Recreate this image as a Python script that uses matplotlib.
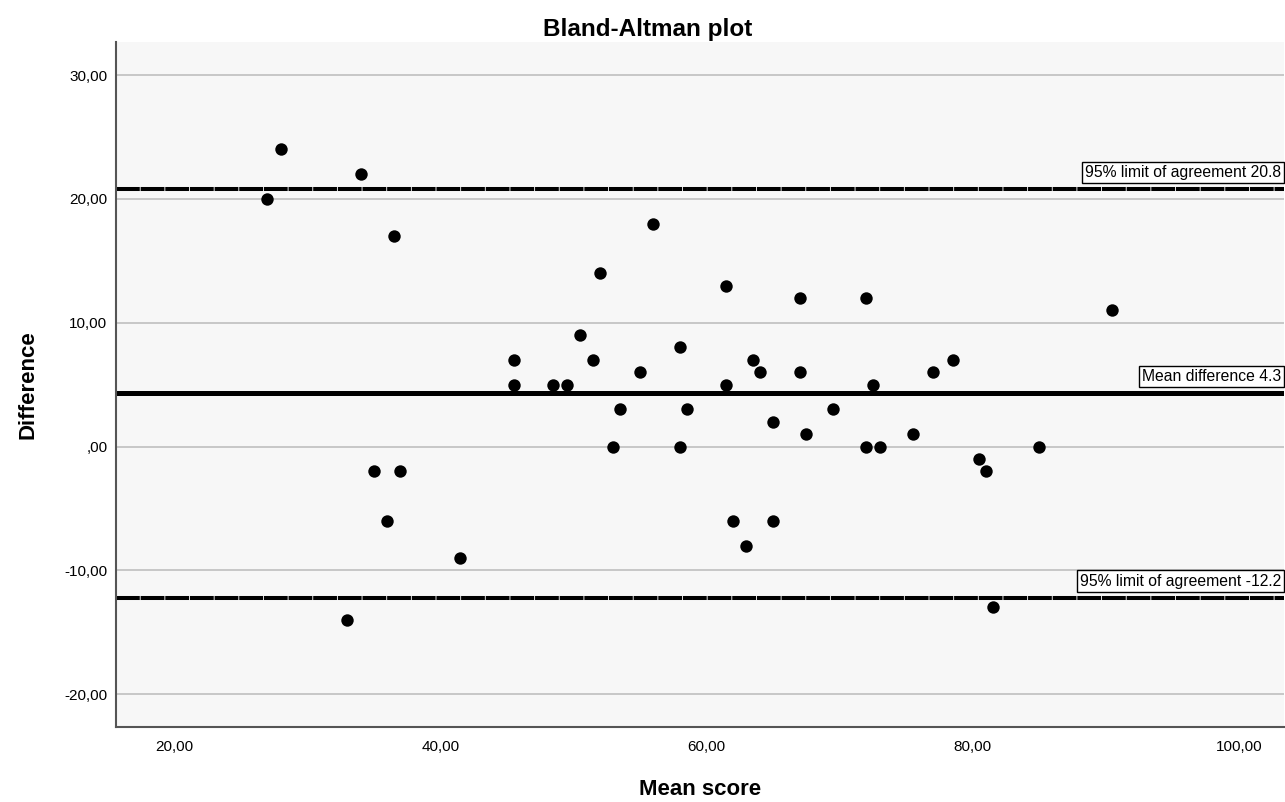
import matplotlib
matplotlib.use('Agg')
import matplotlib.pyplot as plt
import numpy as np

plt.rcParams['font.family'] = ['Liberation Sans', 'DejaVu Sans']

mean_score = [28, 34, 27, 36.5, 35, 37, 36, 41.5, 33,
              45.5, 45.5, 48.5, 49.5, 50.5, 51.5, 52, 53, 53.5, 55, 56,
              58, 58, 58.5, 61.5, 61.5,
              67, 72, 63.5, 64, 67, 72.5, 69.5, 65, 67.5, 75.5, 72, 73,
              62, 65, 63,
              90.5, 77, 78.5, 85, 80.5, 81, 81.5]
difference = [24, 22, 20, 17, -2, -2, -6, -9, -14,
              7, 5, 5, 5, 9, 7, 14, 0, 3, 6, 18,
              8, 0, 3, 13, 5,
              12, 12, 7, 6, 6, 5, 3, 2, 1, 1, 0, 0,
              -6, -6, -8,
              11, 6, 7, 0, -1, -2, -13]

mean_diff = 4.3
loa_upper = 20.8
loa_lower = -12.2

x_ticks = [20, 40, 60, 80, 100]
y_ticks = [-20, -10, 0, 10, 20, 30]


def spss_fmt(v):
    s = f'{v:.2f}'.replace('.', ',')
    if s == '0,00':
        s = ',00'
    return s


fig = plt.figure(figsize=(12.85, 8.02), dpi=100)
ax = fig.add_axes([0.09, 0.0935, 0.9093, 0.854])
ax.set_facecolor('#f7f7f7')

ax.set_xlim(15.6, 103.4)
ax.set_ylim(-22.66, 32.67)

for y in y_ticks:
    ax.axhline(y, color='#c4c4c4', lw=1.3, zorder=1)

ax.axhline(loa_upper, color='black', lw=2.9, linestyle=(0, (5.9, 0.22)), zorder=2)
ax.axhline(loa_lower, color='black', lw=2.9, linestyle=(0, (5.9, 0.22)), zorder=2)
ax.axhline(mean_diff, color='black', lw=3.6, zorder=2)

ax.scatter(mean_score, difference, s=80, color='black', zorder=3, linewidths=0)

labels = [(loa_upper, f'95% limit of agreement {loa_upper:.1f}'),
          (mean_diff, f'Mean difference {mean_diff:.1f}'),
          (loa_lower, f'95% limit of agreement {loa_lower:.1f}')]
for val, txt in labels:
    ax.annotate(txt, xy=(1.0, val), xycoords=('axes fraction', 'data'),
                xytext=(-2, 6.5), textcoords='offset points',
                ha='right', va='bottom', fontsize=11.3, zorder=4,
                bbox=dict(boxstyle='square,pad=0.2', fc='white', ec='black', lw=1))

ax.set_xticks(x_ticks)
ax.set_yticks(y_ticks)
ax.set_xticklabels([spss_fmt(v) for v in x_ticks])
ax.set_yticklabels([spss_fmt(v) for v in y_ticks])
ax.tick_params(axis='both', length=0, labelsize=11)
ax.tick_params(axis='x', pad=9)
ax.tick_params(axis='y', pad=6)

for side in ['top', 'right']:
    ax.spines[side].set_visible(False)
for side in ['left', 'bottom']:
    ax.spines[side].set_color('#555555')
    ax.spines[side].set_linewidth(1.5)

fig.text(0.504, 0.963, 'Bland-Altman plot', ha='center', va='center',
         fontsize=17.5, fontweight='bold')
fig.text(0.545, 0.016, 'Mean score', ha='center', va='center',
         fontsize=16, fontweight='bold')
fig.text(0.022, 0.52, 'Difference', ha='center', va='center', rotation=90,
         fontsize=16, fontweight='bold')

fig.savefig('out.png', dpi=100)
